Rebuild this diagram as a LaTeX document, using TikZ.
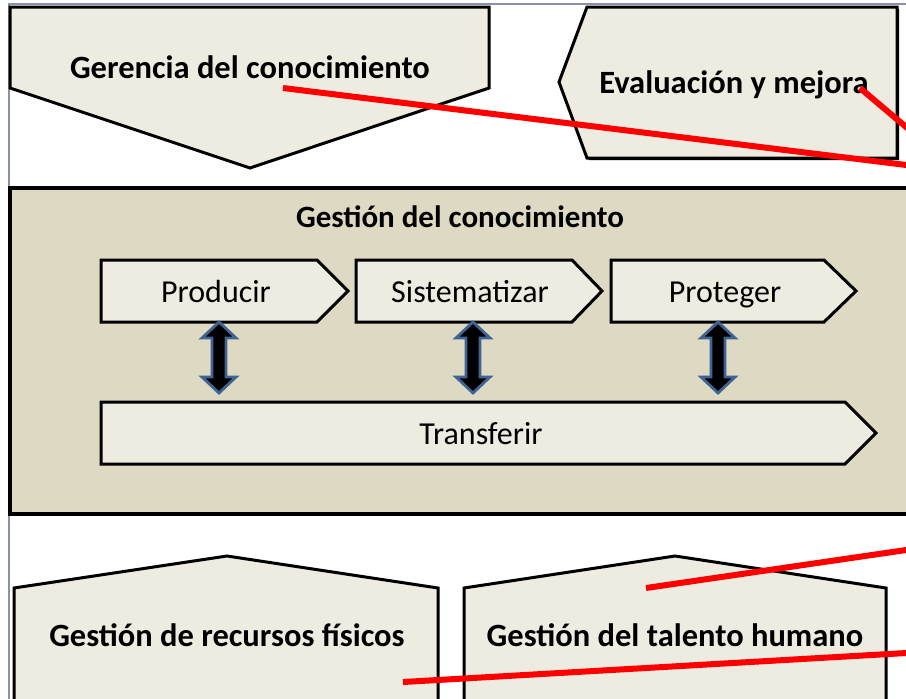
\documentclass[tikz,border=0pt]{standalone}
\usepackage{fontspec}
\setmainfont{Carlito}
\definecolor{lightfill}{HTML}{EEECE1}
\definecolor{tanfill}{HTML}{DDD9C3}
\definecolor{framec}{HTML}{8A91AE}
\definecolor{arrowedge}{HTML}{3F6494}
\definecolor{redline}{HTML}{FF0000}
\tikzset{
  shapebox/.style={draw=black, fill=lightfill, line width=3pt, line join=miter},
  tanbox/.style={draw=black, fill=tanfill, line width=3.2pt},
  boldtxt/.style={font=\bfseries\fontsize{32.5}{38}\selectfont, inner sep=0pt, anchor=base},
  titletxt/.style={font=\bfseries\fontsize{31}{36}\selectfont, inner sep=0pt, anchor=base},
  regtxt/.style={font=\fontsize{32}{38}\selectfont, inner sep=0pt, anchor=base},
  dblarrow/.style={fill=black, draw=arrowedge, line width=2.8pt, line join=miter},
  redconn/.style={draw=redline, line width=6pt}
}
\newcommand{\vdblarrow}[1]{%
  \draw[dblarrow] (#1,322) -- (#1+17,338) -- (#1+7,338) -- (#1+7,377) -- (#1+17,377) -- (#1,393)
   -- (#1-17,377) -- (#1-7,377) -- (#1-7,338) -- (#1-17,338) -- cycle;}
\begin{document}
\begin{tikzpicture}[x=1pt,y=-1pt]
\useasboundingbox (0,0) rectangle (906,699);
\clip (0,0) rectangle (906,699);
\fill[white] (0,0) rectangle (906,699);
% outer frame
\draw[framec, line width=1.6pt] (9,720) -- (9,4) -- (930,4);

% Gerencia del conocimiento (down pentagon)
\draw[shapebox] (10,7) -- (489,7) -- (489,88) -- (250,168) -- (10,88) -- cycle;
\node[boldtxt] (ger) at (250,78) {Gerencia del conocimiento};

% Evaluacion y mejora (left-pointing pentagon with shadow)
\fill[black] (589,9) -- (899,9) -- (899,160) -- (589,160) -- (561,84) -- cycle;
\draw[shapebox] (587,7) -- (897,7) -- (897,158) -- (587,158) -- (559,82) -- cycle;
\node[boldtxt] (eva) at (734,93) {Evaluación y mejora};

% Gestion del conocimiento
\draw[tanbox] (10,188) rectangle (940,514);
\node[titletxt] (gest) at (460,227) {Gestión del conocimiento};

% process chevrons
\draw[shapebox] (101,260) -- (317,260) -- (348,291) -- (317,322) -- (101,322) -- cycle;
\node[regtxt] (prod) at (216,302.5) {Producir};
\draw[shapebox] (356,260) -- (572,260) -- (602,291) -- (572,322) -- (356,322) -- cycle;
\node[regtxt] (sist) at (470,302.5) {Sistematizar};
\draw[shapebox] (611,260) -- (824,260) -- (856,291) -- (824,322) -- (611,322) -- cycle;
\node[regtxt] (prot) at (725,302.5) {Proteger};
\draw[shapebox] (101,402) -- (845,402) -- (876,433) -- (845,464) -- (101,464) -- cycle;
\node[regtxt] (trans) at (481,444.5) {Transferir};

% double arrows
\vdblarrow{219}
\vdblarrow{473}
\vdblarrow{718}

% bottom house shapes
\draw[shapebox] (14,588) -- (227,556) -- (438,588) -- (438,730) -- (14,730) -- cycle;
\node[boldtxt] (recur) at (227,646) {Gestión de recursos físicos};
\draw[shapebox] (464,588) -- (675,556) -- (886,588) -- (886,730) -- (464,730) -- cycle;
\node[boldtxt] (talen) at (675,646) {Gestión del talento humano};

% red lines
\coordinate (r1a) at (283,88);   \coordinate (r1b) at (915,166.1);
\coordinate (r2a) at (860,88);   \coordinate (r2b) at (915,134.6);
\coordinate (r3a) at (646,588);  \coordinate (r3b) at (915,548.7);
\coordinate (r4a) at (403,682);  \coordinate (r4b) at (915,652.5);
\draw[redconn] (r1a) -- (r1b);
\draw[redconn] (r2a) -- (r2b);
\draw[redconn] (r3a) -- (r3b);
\draw[redconn] (r4a) -- (r4b);
\end{tikzpicture}
\end{document}
